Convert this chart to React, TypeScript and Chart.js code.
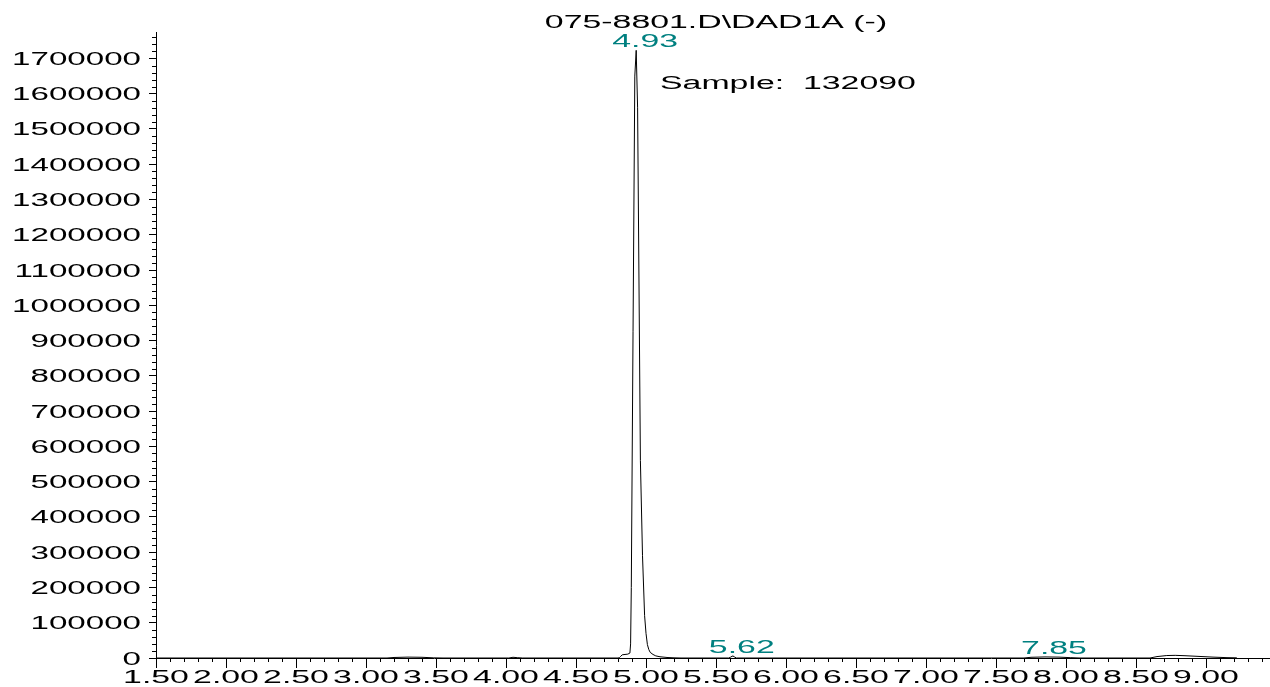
import React, { useEffect, useRef } from "react";
import { Chart, registerables } from "chart.js";

Chart.register(...registerables);

// ---- Data (retention time in min, detector signal) ----
const times: number[] = [
  1.5, 3.15, 3.2, 3.3, 3.4, 3.48, 3.55, 4.02, 4.05, 4.08, 4.12,
  4.8, 4.81, 4.82, 4.83, 4.87, 4.885, 4.89, 4.895, 4.92, 4.93, 4.94, 4.96, 4.975,
  4.99, 5.0, 5.01, 5.02, 5.03, 5.05, 5.07, 5.1, 5.15, 5.2, 5.25,
  5.59, 5.605, 5.615, 5.62, 5.63, 5.645,
  7.7, 7.75, 7.85, 7.95, 8.03, 8.1,
  8.6, 8.65, 8.72, 8.78, 8.85, 8.95, 9.05, 9.15, 9.22,
];
const signal: number[] = [
  0, 0, 1500, 2500, 2000, 500, 0, 0, 2000, 1000, 0,
  0, 1000, 5000, 9000, 11000, 14000, 40000, 200000, 1650000, 1723000, 1560000, 560000, 290000,
  120000, 70000, 38000, 24000, 16000, 10000, 6000, 3500, 1500, 500, 0,
  0, 2500, 5000, 6000, 3500, 0,
  0, 2000, 3000, 2500, 1000, 0,
  0, 4000, 7000, 7500, 6500, 4500, 2500, 1000, 500,
];

const xMajorTicks: number[] = [1.5, 2.0, 2.5, 3.0, 3.5, 4.0, 4.5, 5.0, 5.5, 6.0, 6.5, 7.0, 7.5, 8.0, 8.5, 9.0];
const yMajorTicks: number[] = [
  0, 100000, 200000, 300000, 400000, 500000, 600000, 700000, 800000, 900000,
  1000000, 1100000, 1200000, 1300000, 1400000, 1500000, 1600000, 1700000,
];
const xMinorStep = 0.1;
const yMinorStep = 20000;

const peakTimes: number[] = [4.93, 5.62, 7.85];
const peakApex: number[] = [1723000, 6000, 3000];
const peakLabels: string[] = ["4.93", "5.62", "7.85"];

const titleText = "075-8801.D\\DAD1A (-)";
const sampleText = "Sample:  132090";

const X_MIN = 1.5;
const X_MAX = 9.45;
const Y_MIN = 0;
const Y_MAX = 1775000;

const FONT = '18px "Liberation Sans", Arial, sans-serif';
const SX = 1.88;
const SX_Y = 1.84;
const TEAL = "#008080";

function stretchedText(
  ctx: CanvasRenderingContext2D,
  text: string,
  x: number,
  y: number,
  align: CanvasTextAlign,
  color: string,
  sx: number = SX
) {
  ctx.save();
  ctx.translate(x, y);
  ctx.scale(sx, 1);
  ctx.font = FONT;
  ctx.fillStyle = color;
  ctx.textAlign = align;
  ctx.textBaseline = "alphabetic";
  ctx.fillText(text, 0, 0);
  ctx.restore();
}

const decorPlugin = {
  id: "chromDecor",
  afterDraw(chart: any) {
    const ctx: CanvasRenderingContext2D = chart.ctx;
    const xs = chart.scales.x;
    const ys = chart.scales.y;
    const area = chart.chartArea;
    ctx.save();
    ctx.strokeStyle = "#000";
    ctx.lineWidth = 1;
    ctx.beginPath();
    const nX = Math.round((X_MAX - X_MIN) / xMinorStep);
    for (let i = 0; i <= nX; i++) {
      const v = X_MIN + i * xMinorStep;
      if (v > X_MAX + 1e-9) break;
      if (Math.abs(v / 0.5 - Math.round(v / 0.5)) < 1e-6) continue;
      const px = Math.round(xs.getPixelForValue(v)) + 0.5;
      ctx.moveTo(px, area.bottom);
      ctx.lineTo(px, area.bottom + 4);
    }
    const nY = Math.round((Y_MAX - Y_MIN) / yMinorStep);
    for (let i = 0; i <= nY; i++) {
      const v = Y_MIN + i * yMinorStep;
      if (v > Y_MAX) break;
      if (v % 100000 === 0) continue;
      const py = Math.round(ys.getPixelForValue(v)) + 0.5;
      ctx.moveTo(area.left, py);
      ctx.lineTo(area.left - 4, py);
    }
    ctx.stroke();
    ctx.restore();

    yMajorTicks.forEach((v) => {
      const py = ys.getPixelForValue(v);
      stretchedText(ctx, String(v), 141, py + 6.5, "right", "#000", SX_Y);
    });
    xMajorTicks.forEach((v) => {
      const px = xs.getPixelForValue(v);
      stretchedText(ctx, v.toFixed(2), px, 683, "center", "#000");
    });
    peakTimes.forEach((t, i) => {
      const px = xs.getPixelForValue(t);
      const py = ys.getPixelForValue(peakApex[i]);
      stretchedText(ctx, peakLabels[i], px + 9, py - 3, "center", TEAL);
    });
    stretchedText(ctx, titleText, 716, 28, "center", "#000");
    stretchedText(ctx, sampleText, 660, 89, "left", "#000");
  },
};

export default function App() {
  const canvasRef = useRef<HTMLCanvasElement | null>(null);

  useEffect(() => {
    document.body.style.margin = "0";
    document.body.style.overflow = "hidden";
    const canvas = canvasRef.current;
    if (!canvas) return;
    const points = times.map((t, i) => ({ x: t, y: signal[i] }));
    const chart = new Chart(canvas, {
      type: "line",
      data: {
        datasets: [
          {
            data: points,
            borderColor: "#000",
            borderWidth: 1,
            pointRadius: 0,
            tension: 0,
            fill: false,
          },
        ],
      },
      options: {
        responsive: false,
        animation: false,
        devicePixelRatio: 1,
        layout: { padding: { left: 149, top: 32, right: 1, bottom: 19 } },
        plugins: {
          legend: { display: false },
          title: { display: false },
          tooltip: { enabled: false },
        },
        scales: {
          x: {
            type: "linear",
            min: X_MIN,
            max: X_MAX,
            afterBuildTicks: (scale: any) => {
              scale.ticks = xMajorTicks.map((v) => ({ value: v }));
            },
            ticks: { display: false },
            grid: {
              drawOnChartArea: false,
              drawTicks: true,
              tickLength: 10,
              color: "#000",
              tickColor: "#000",
            },
            border: { display: true, color: "#000", width: 1 },
          },
          y: {
            type: "linear",
            min: Y_MIN,
            max: Y_MAX,
            afterBuildTicks: (scale: any) => {
              scale.ticks = yMajorTicks.map((v) => ({ value: v }));
            },
            ticks: { display: false },
            grid: {
              drawOnChartArea: false,
              drawTicks: true,
              tickLength: 7,
              color: "#000",
              tickColor: "#000",
            },
            border: { display: true, color: "#000", width: 1 },
          },
        },
      },
      plugins: [decorPlugin],
    });
    return () => chart.destroy();
  }, []);

  return (
    <div style={{ width: 1270, height: 687, background: "#fff" }}>
      <canvas ref={canvasRef} width={1270} height={687} style={{ display: "block" }} />
    </div>
  );
}
